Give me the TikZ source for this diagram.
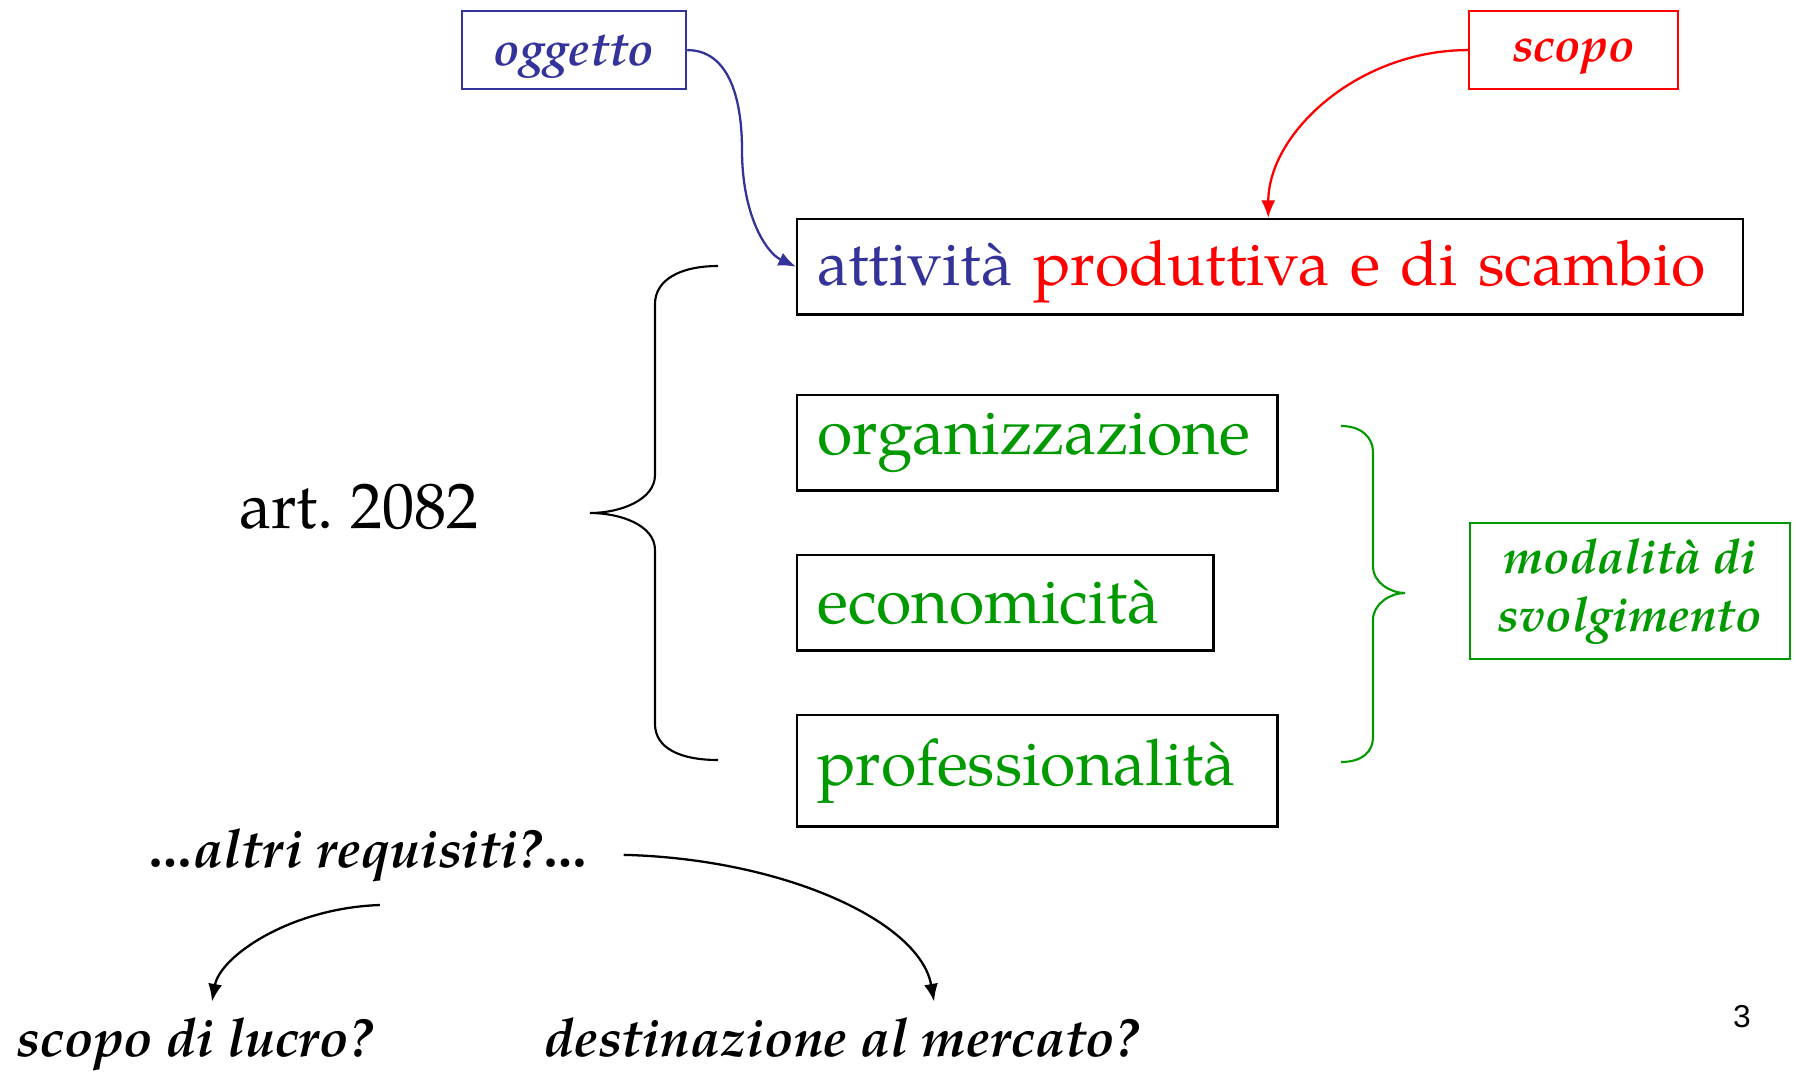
\documentclass[tikz,border=0pt]{standalone}
\usepackage{fontspec}
\setmainfont{texgyrepagella}[Extension=.otf, UprightFont=*-regular, BoldFont=*-bold, ItalicFont=*-italic, BoldItalicFont=*-bolditalic]
\newfontfamily\pagefont{Liberation Sans}
\usetikzlibrary{arrows.meta}
\definecolor{oggblue}{RGB}{51,51,153}
\definecolor{scred}{RGB}{255,0,0}
\definecolor{modgreen}{RGB}{0,153,0}
\frenchspacing
\hyphenpenalty=10000
\tikzset{
  reqbox/.style={draw, line width=0.7pt, anchor=north west, inner xsep=0.2cm, inner ysep=0pt, align=left, text=modgreen, font=\fontsize{18.3}{22}\selectfont},
  tagbox/.style={draw, line width=0.6pt, anchor=north west, inner sep=0pt, align=center, font=\fontsize{13.7}{16.5}\selectfont\bfseries\itshape},
  question/.style={inner sep=0pt, anchor=base, font=\fontsize{15.2}{18}\selectfont\bfseries\itshape},
  link/.style={line width=0.65pt, -{Latex[length=5pt,width=4pt]}},
  brace/.style={line width=0.6pt}
}
\begin{document}
\begin{tikzpicture}[x=0.01cm, y=-0.01cm]
  \useasboundingbox (0,0) rectangle (1796,1072);

  % riquadri in alto
  \node[tagbox, draw=oggblue, text=oggblue, text depth=0pt, minimum width=2.24cm, minimum height=0.78cm] (oggetto) at (461,10) {oggetto};
  \node[tagbox, draw=scred, text=scred, text depth=0pt, minimum width=2.09cm, minimum height=0.78cm] (scopo) at (1468,10) {scopo};

  % requisiti
  \node[reqbox, text width=9.05cm, minimum height=0.95cm, text depth=0.07cm, font=\fontsize{17.8}{22}\selectfont] (attivita) at (796,218) {\textcolor{oggblue}{attività} \textcolor{scred}{produttiva e di scambio}};
  \node[reqbox, text width=4.4cm, minimum height=0.95cm] (organizz) at (796,394) {organizzazione};
  \node[reqbox, text width=3.76cm, minimum height=0.95cm] (economic) at (796,554) {economicità};
  \node[reqbox, text width=4.4cm, minimum height=1.11cm] (profess) at (796,714) {professionalità};

  \node[font=\fontsize{18.3}{22}\selectfont] (art) at (359,507) {art. 2082};
  \node[tagbox, draw=modgreen, text=modgreen, minimum width=3.2cm, minimum height=1.36cm] (modalita) at (1469,522) {modalità di\\svolgimento};

  % graffe
  \draw[brace] (718,266) .. controls (680,266) and (655,280) .. (655,304) -- (655,475)
    .. controls (655,500) and (620,513) .. (590,513)
    .. controls (620,513) and (655,525) .. (655,550) -- (655,724)
    .. controls (655,748) and (680,760) .. (718,760);
  \draw[brace, modgreen] (1341,426) .. controls (1362,426) and (1373,438) .. (1373,452) -- (1373,567)
    .. controls (1373,582) and (1390,593) .. (1405,593)
    .. controls (1390,593) and (1373,604) .. (1373,620) -- (1373,737)
    .. controls (1373,752) and (1362,762) .. (1341,762);

  % frecce in alto
  \coordinate (oggbend) at (742,150);
  \coordinate (scopotgt) at ([xshift=4.72cm]attivita.north west);
  \draw[link, oggblue] (oggetto.east) .. controls +(40,0) and +(0,-55) .. (oggbend)
    .. controls +(0,65) and +(-30,-14) .. (attivita.west);
  \draw[link, scred] (scopo.west) .. controls +(-110,0) and +(0,-85) .. (scopotgt);

  % altri requisiti
  \node[question] (altri) at (368,867) {\ldots altri requisiti?\ldots};
  \node[question] (lucro) at (195,1056) {scopo di lucro?};
  \node[question] (mercato) at (842,1056) {destinazione al mercato?};
  \coordinate (altribelow) at (380,905);
  \draw[link] (altribelow) .. controls +(-90,3) and +(8,-45) .. ([xshift=0.17cm,yshift=0.15cm]lucro.north);
  \draw[link] ([xshift=0.35cm]altri.east) .. controls +(160,4) and +(-14,-80) .. ([xshift=0.92cm,yshift=0.15cm]mercato.north);

  \node[font=\pagefont\fontsize{9}{11}\selectfont] (pagenum) at (1742,1017) {3};
\end{tikzpicture}
\end{document}
